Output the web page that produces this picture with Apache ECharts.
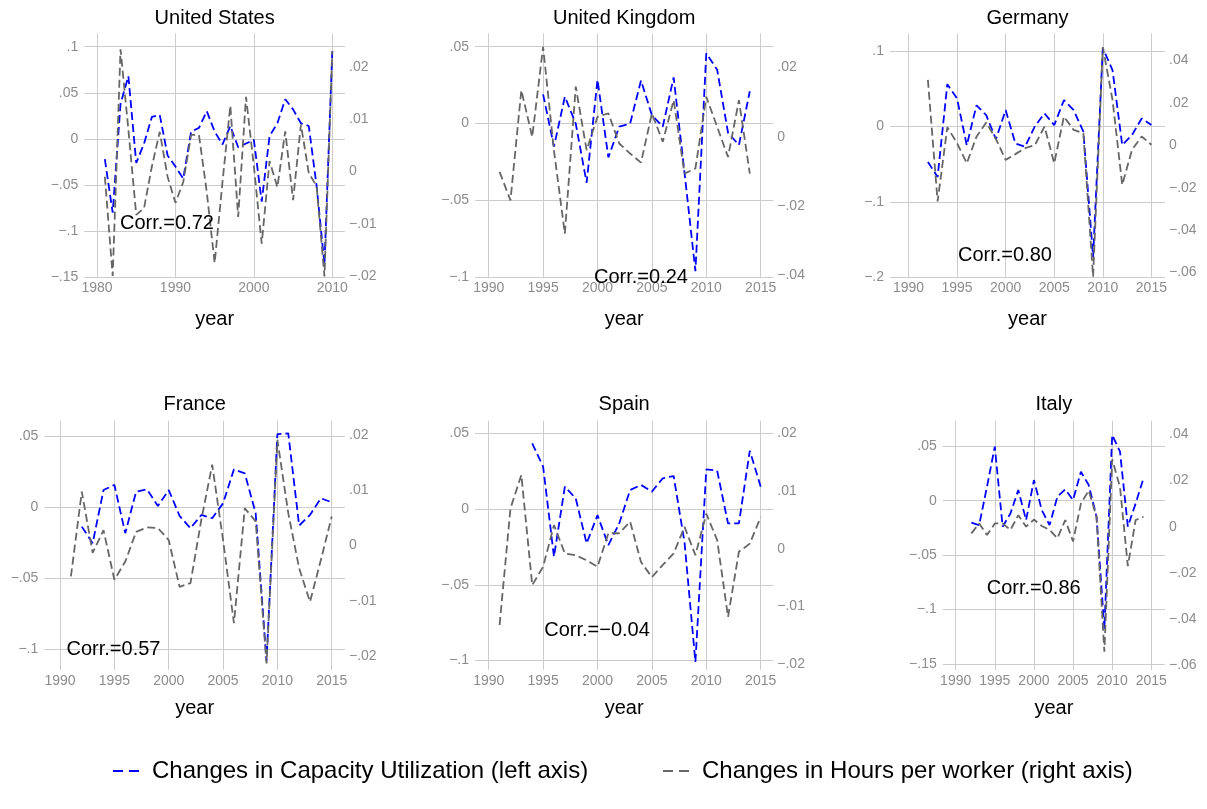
<!DOCTYPE html>
<html>
<head>
<meta charset="utf-8">
<title>Capacity utilization and hours per worker</title>
<script src="https://cdn.jsdelivr.net/npm/echarts@6/dist/echarts.min.js"></script>
<style>
  html, body { margin: 0; padding: 0; background: #fff; }
  #chart { width: 1207px; height: 809px; }
</style>
</head>
<body>
<div id="chart"></div>
<script>
// panel titles and correlation notes, reading order
const countries = ['United States', 'United Kingdom', 'Germany', 'France', 'Spain', 'Italy'];
const corrLabels = ['Corr.=0.72', 'Corr.=0.24', 'Corr.=0.80', 'Corr.=0.57', 'Corr.=\u22120.04', 'Corr.=0.86'];
const seriesNames = ['Changes in Capacity Utilization (left axis)', 'Changes in Hours per worker (right axis)'];

// United States
const usYears = [1981, 1982, 1983, 1984, 1985, 1986, 1987, 1988, 1989, 1990, 1991, 1992, 1993, 1994, 1995,
  1996, 1997, 1998, 1999, 2000, 2001, 2002, 2003, 2004, 2005, 2006, 2007, 2008, 2009, 2010];
const usCU = [-0.022, -0.080, 0.038, 0.068, -0.026, -0.005, 0.024, 0.026, -0.018, -0.030, -0.043, 0.008, 0.012, 0.030, 0.008,
  -0.006, 0.014, -0.009, -0.005, -0.001, -0.068, 0.003, 0.017, 0.043, 0.032, 0.017, 0.014, -0.051, -0.136, 0.095];
const usHours = [-0.001, -0.020, 0.0234, 0.008, -0.0083, -0.007, 0.001, 0.0076, -0.001, -0.006, -0.002, 0.007, 0.007, -0.004, -0.0175,
  -0.002, 0.0126, -0.0087, 0.0143, 0.001, -0.0138, 0.002, -0.003, 0.0077, -0.0055, 0.009, -0.0003, -0.0028, -0.0201, 0.023];

// United Kingdom
const ukYears = [1991, 1992, 1993, 1994, 1995, 1996, 1997, 1998, 1999, 2000, 2001, 2002,
  2003, 2004, 2005, 2006, 2007, 2008, 2009, 2010, 2011, 2012, 2013, 2014];
const ukCU = [null, null, null, null, 0.019, -0.015, 0.0175, 0.000, -0.0385, 0.0285, -0.022, -0.002,
  0.000, 0.028, 0.0055, -0.002, 0.030, -0.032, -0.096, 0.0457, 0.035, -0.006, -0.014, 0.021];
const ukHours = [-0.0101, -0.0183, 0.0135, 0.000, 0.026, -0.004, -0.0279, 0.0145, -0.0038, 0.0058, 0.0068, -0.0019,
  -0.0048, -0.0074, 0.0068, -0.0014, 0.0106, -0.0106, -0.0091, 0.0116, 0.0029, -0.0058, 0.0106, -0.0106];

// Germany
const deYears = [1992, 1993, 1994, 1995, 1996, 1997, 1998, 1999, 2000, 2001, 2002, 2003,
  2004, 2005, 2006, 2007, 2008, 2009, 2010, 2011, 2012, 2013, 2014, 2015];
const deCU = [-0.047, -0.067, 0.056, 0.037, -0.025, 0.028, 0.015, -0.017, 0.0217, -0.0226, -0.027, 0.000,
  0.0173, 0.0018, 0.035, 0.0217, -0.007, -0.173, 0.1036, 0.0748, -0.0248, -0.0115, 0.0106, 0.0018];
const deHours = [0.0308, -0.0265, 0.0085, 0.001, -0.0085, 0.004, 0.0107, 0.003, -0.0069, -0.0042, -0.0014, 0.000,
  0.0088, -0.0085, 0.0135, 0.0072, 0.0057, -0.0619, 0.0462, 0.0213, -0.0187, -0.0022, 0.0041, 0.0002];

// France
const frYears = [1991, 1992, 1993, 1994, 1995, 1996, 1997, 1998, 1999, 2000, 2001, 2002, 2003,
  2004, 2005, 2006, 2007, 2008, 2009, 2010, 2011, 2012, 2013, 2014, 2015];
const frCU = [null, -0.0136, -0.0252, 0.0121, 0.0157, -0.0182, 0.011, 0.0126, 0.0009, 0.0121, -0.006, -0.0147, -0.0054,
  -0.0077, 0.0028, 0.0266, 0.0238, -0.0042, -0.108, 0.0514, 0.0519, -0.0128, -0.0054, 0.0063, 0.0035];
const frHours = [-0.0056, 0.0098, -0.0013, 0.0028, -0.0062, -0.0029, 0.0025, 0.0033, 0.0032, 0.001, -0.0075, -0.0068, 0.0047,
  0.0147, 0.001, -0.0141, 0.0068, 0.0044, -0.0214, 0.0192, 0.0059, -0.0041, -0.0102, -0.0026, 0.0053];

// Spain
const esYears = [1991, 1992, 1993, 1994, 1995, 1996, 1997, 1998, 1999, 2000, 2001, 2002, 2003,
  2004, 2005, 2006, 2007, 2008, 2009, 2010, 2011, 2012, 2013, 2014, 2015];
const esCU = [null, null, null, 0.0434, 0.028, -0.0315, 0.0148, 0.007, -0.0227, -0.004, -0.0238, -0.0095, 0.0126,
  0.0159, 0.0115, 0.0203, 0.0218, -0.022, -0.1009, 0.0262, 0.0253, -0.0095, -0.0095, 0.0385, 0.0148];
const esHours = [-0.0132, 0.007, 0.0128, -0.0063, -0.0031, 0.0041, -0.0008, -0.0011, -0.002, -0.0031, 0.0027, 0.0027, 0.0047,
  -0.0023, -0.0049, -0.0028, -0.0008, 0.0038, -0.0011, 0.0061, 0.0015, -0.0118, -0.0005, 0.0009, 0.0055];

// Italy
const itYears = [1992, 1993, 1994, 1995, 1996, 1997, 1998, 1999, 2000, 2001, 2002, 2003,
  2004, 2005, 2006, 2007, 2008, 2009, 2010, 2011, 2012, 2013, 2014];
const itCU = [-0.0202, -0.0224, 0.0129, 0.0497, -0.0239, -0.0117, 0.0098, -0.0178, 0.019, -0.0086, -0.0224, 0.0037,
  0.0104, 0.0006, 0.0267, 0.0144, -0.0147, -0.118, 0.0604, 0.0451, -0.0239, -0.0025, 0.0206];
const itHours = [-0.0029, 0.0014, -0.0036, 0.0014, 0.0014, -0.0014, 0.005, 0.000, 0.0031, 0.0003, -0.0014, -0.005,
  0.0029, -0.0064, 0.01, 0.0157, 0.0043, -0.0543, 0.0293, 0.0171, -0.0171, 0.0029, 0.0043];

const panelData = [
  [usYears, usCU, usHours],
  [ukYears, ukCU, ukHours],
  [deYears, deCU, deHours],
  [frYears, frCU, frHours],
  [esYears, esCU, esHours],
  [itYears, itCU, itHours]
];

// plot boxes in pixels and axis ranges [min, max, step]
const layout = [
  { l: 84.3, r: 345, t: 33.3, b: 277.3, x: [1978.38, 2011.62, 10], yl: [-0.15, 0.1145, 0.05], yr: [-0.02025, 0.02645, 0.01], corr: [167, 223] },
  { l: 475, r: 773.3, t: 33.3, b: 277.3, x: [1988.74, 2016.16, 5], yl: [-0.1, 0.0587, 0.05], yr: [-0.0405, 0.0299, 0.02], corr: [641, 277.7] },
  { l: 890, r: 1165, t: 33.3, b: 277.3, x: [1988.1, 2016.4, 5], yl: [-0.2, 0.1235, 0.1], yr: [-0.0622, 0.0527, 0.02], corr: [1005, 255] },
  { l: 44.3, r: 345, t: 420.7, b: 670, x: [1988.55, 2016.22, 5], yl: [-0.1143, 0.0608, 0.05], yr: [-0.0226, 0.0227, 0.01], corr: [113.5, 649.3] },
  { l: 475, r: 773.3, t: 420.7, b: 670, x: [1988.74, 2016.16, 5], yl: [-0.1062, 0.0583, 0.05], yr: [-0.021, 0.0222, 0.01], corr: [597, 630.7] },
  { l: 942.7, r: 1165, t: 420.7, b: 670, x: [1988.34, 2016.75, 5], yl: [-0.1557, 0.0736, 0.05], yr: [-0.0622, 0.046, 0.02], corr: [1033.7, 588.3] }
];
const titleY = [18, 18, 18, 404, 404, 404];
const yearGap = [32, 32, 32, 28, 28, 28];

const FONT = 'Liberation Sans, Arial, sans-serif';
const GRID_COLOR = '#cccccc';
const LABEL_COLOR = '#8c8c8c';

function onStep(v, step) {
  const r = v / step;
  return Math.abs(r - Math.round(r)) < 1e-6;
}

// Stata style numbers: .05, −.1, 0
function stataNum(v) {
  const r = Math.round(v * 10000) / 10000;
  if (r === 0) return '0';
  const s = String(Math.abs(r)).replace(/^0/, '');
  return (r < 0 ? '\u2212' : '') + s;
}

function valueAxis(i, range, side) {
  const [min, max, step] = range;
  return {
    type: 'value',
    gridIndex: i,
    position: side,
    min: min,
    max: max,
    minInterval: step,
    maxInterval: step,
    axisLine: { show: false },
    axisTick: { show: false },
    axisLabel: {
      color: LABEL_COLOR,
      fontFamily: FONT,
      fontSize: 14,
      margin: side === 'left' ? 6 : 4,
      formatter: v => (onStep(v, step) ? stataNum(v) : '')
    },
    splitLine: {
      show: side === 'left',
      showMinLine: onStep(min, step),
      showMaxLine: onStep(max, step),
      lineStyle: { color: GRID_COLOR, width: 1 }
    }
  };
}

const grids = [], xAxes = [], yAxes = [], series = [], graphics = [];

layout.forEach((p, i) => {
  const [min, max, step] = p.x;
  grids.push({ left: p.l, top: p.t, width: p.r - p.l, height: p.b - p.t });

  xAxes.push({
    type: 'value',
    gridIndex: i,
    min: min,
    max: max,
    minInterval: step,
    maxInterval: step,
    name: 'year',
    nameLocation: 'middle',
    nameGap: yearGap[i],
    nameTextStyle: { color: '#000', fontFamily: FONT, fontSize: 20 },
    axisLine: { show: false },
    axisTick: { show: false },
    axisLabel: {
      color: LABEL_COLOR,
      fontFamily: FONT,
      fontSize: 14,
      margin: 4,
      formatter: v => (onStep(v, step) ? String(Math.round(v)) : '')
    },
    splitLine: {
      show: true,
      showMinLine: onStep(min, step),
      showMaxLine: onStep(max, step),
      lineStyle: { color: GRID_COLOR, width: 1 }
    }
  });

  yAxes.push(valueAxis(i, p.yl, 'left'));
  yAxes.push(valueAxis(i, p.yr, 'right'));

  const [years, cu, hours] = panelData[i];
  series.push({
    name: seriesNames[0],
    type: 'line',
    xAxisIndex: i,
    yAxisIndex: 2 * i,
    data: years.map((yr, k) => [yr, cu[k]]),
    symbol: 'none',
    lineStyle: { color: '#0000ff', width: 1.8, type: [8, 4] },
    itemStyle: { color: '#0000ff' },
    z: 2
  });
  series.push({
    name: seriesNames[1],
    type: 'line',
    xAxisIndex: i,
    yAxisIndex: 2 * i + 1,
    data: years.map((yr, k) => [yr, hours[k]]),
    symbol: 'none',
    lineStyle: { color: '#666666', width: 1.8, type: [8, 4] },
    itemStyle: { color: '#666666' },
    z: 3
  });

  graphics.push({
    type: 'text',
    x: (p.l + p.r) / 2,
    y: titleY[i],
    style: { text: countries[i], fill: '#000', font: '20px ' + FONT, textAlign: 'center', textVerticalAlign: 'middle' }
  });
  graphics.push({
    type: 'text',
    x: p.corr[0],
    y: p.corr[1],
    z: 10,
    style: { text: corrLabels[i], fill: '#000', font: '20px ' + FONT, textAlign: 'center', textVerticalAlign: 'middle' }
  });
});

const legendText = { color: '#000', fontFamily: FONT, fontSize: 24, padding: [0, 0, 0, 8] };
const legendBase = {
  top: 754,
  itemWidth: 26,
  itemHeight: 14,
  itemStyle: { opacity: 0 },
  lineStyle: { type: [10, 6], width: 2 },
  textStyle: legendText
};

const chart = echarts.init(document.getElementById('chart'), null, { renderer: 'canvas' });
chart.setOption({
  animation: false,
  backgroundColor: '#ffffff',
  textStyle: { fontFamily: FONT },
  legend: [
    Object.assign({ left: 107, data: [seriesNames[0]] }, legendBase),
    Object.assign({ left: 657, data: [seriesNames[1]] }, legendBase)
  ],
  grid: grids,
  xAxis: xAxes,
  yAxis: yAxes,
  series: series,
  graphic: graphics
});
</script>
</body>
</html>
